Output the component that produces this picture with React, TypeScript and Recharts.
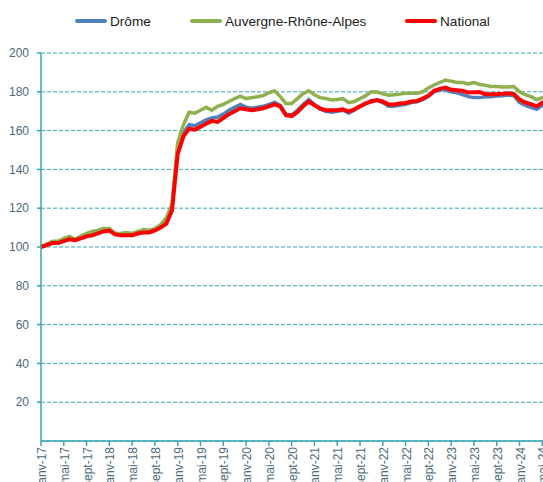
import { CartesianGrid, Legend, Line, LineChart, XAxis, YAxis } from "recharts";

const monthNames = ["janv", "févr", "mars", "avr", "mai", "juin", "juil", "août", "sept", "oct", "nov", "déc"];
const years = ["17", "18", "19", "20", "21", "22", "23", "24"];
const periods = years.flatMap((y) => monthNames.map((m) => `${m}-${y}`)).slice(0, 90);

const drome = [
  100, 101, 102, 102.5, 103.5, 104.5, 104, 105.5, 106.5, 107.5, 108.5, 109.5,
  109, 107, 106.5, 106.5, 106, 107, 108, 108, 109, 111, 114, 121,
  151, 159, 163, 162.5, 164, 165.5, 166.5, 167, 168.5, 170.5, 172, 173.5,
  172, 171.5, 172, 172.5, 173.5, 174.5, 173, 168.5, 168, 170.5, 173.5, 176,
  173.5, 171, 170, 169.5, 170, 170.5, 169, 170.5, 172.5, 174, 175.5, 175.5,
  174.5, 172.5, 172.5, 173, 173.5, 174.5, 174.8, 176, 177.5, 180, 181, 181,
  180, 179.5, 178.5, 177.5, 177, 177, 177.5, 177.5, 177.8, 178, 178.3, 178,
  174.5, 173, 172, 171, 173, 174,
];

const auvergne = [
  100, 101.5, 103, 103, 104.5, 105.5, 104, 105.5, 107, 108, 108.5, 109.5,
  109.5, 107, 107, 107.5, 107, 108, 109, 108.5, 109.5, 111.5, 115, 122,
  154, 163, 169.5, 169, 170.5, 172, 170.5, 172.5, 173.5, 175, 176.5, 177.8,
  176.5, 177, 177.5, 178, 179.5, 180.5, 177.5, 174, 174, 176.5, 179, 180.5,
  178.5, 177, 176.5, 175.8, 176, 176.5, 174.4, 175, 176.5, 178, 180, 179.9,
  179, 178.2, 178.5, 178.8, 179.3, 179.3, 179.3, 180, 182, 183.5, 184.8, 186,
  185.5, 184.8, 184.8, 184, 184.8, 183.8, 183.4, 182.7, 182.7, 182.5, 182.5, 182.7,
  180, 178.5, 177.5, 176, 177, 177.5,
];

const national = [
  100, 101, 102, 102, 103, 104, 103.5, 104.5, 105.5, 106, 107, 108,
  108.5, 106.5, 106, 106, 106, 107, 107.5, 107.5, 108.5, 110, 112, 119,
  148, 157, 161, 160.5, 162, 163.5, 165, 164.5, 166.5, 168.5, 170, 171.5,
  171, 170.5, 171, 171.5, 172.5, 173.5, 172.5, 168, 167.5, 169.5, 172.5, 175,
  173, 171.5, 170.5, 170.5, 170.5, 171, 169.8, 171, 172.5, 174, 175, 175.8,
  175, 173.5, 173.5, 174, 174.2, 175, 175.3, 176.5, 178, 180.5, 181.5, 182.2,
  181, 180.8, 180.5, 179.6, 179.8, 179.9, 178.8, 178.8, 178.8, 179, 179.3, 178.8,
  176, 174.5, 173.6, 172.5, 174.4, 175,
];

const yTicks = [20, 40, 60, 80, 100, 120, 140, 160, 180, 200];
const seriesNames = ["Drôme", "Auvergne-Rhône-Alpes", "National"];

const data = periods.map((period, i) => ({
  period,
  drome: drome[i],
  auvergne: auvergne[i],
  national: national[i],
}));

const AXIS = "#3aa5b5";
const TEXT = "#4c6a78";
const legendLeft = [75, 190, 405];

const MonthTick = ({ x, y, payload }: any) => (
  <text
    x={x + 1}
    y={y}
    transform={`rotate(-90, ${x + 1}, ${y})`}
    textAnchor="end"
    dominantBaseline="central"
    fill={TEXT}
    fontSize={12}
  >
    {payload.value}
  </text>
);

const renderLegend = ({ payload }: any) => {
  const items = [...(payload || [])].sort(
    (a: any, b: any) => seriesNames.indexOf(a.value) - seriesNames.indexOf(b.value)
  );
  return (
    <div style={{ position: "relative", height: 20 }}>
      {items.map((entry: any, i: number) => (
        <div
          key={entry.value}
          style={{
            position: "absolute",
            left: legendLeft[i],
            top: 0,
            height: 20,
            display: "flex",
            alignItems: "center",
            whiteSpace: "nowrap",
          }}
        >
          <span
            style={{
              display: "inline-block",
              width: 32,
              height: 4,
              borderRadius: 2,
              background: entry.color,
              marginRight: 3,
            }}
          />
          <span style={{ fontSize: 13.6, color: "#222" }}>{entry.value}</span>
        </div>
      ))}
    </div>
  );
};

export default function App() {
  return (
    <div
      style={{
        position: "absolute",
        left: 0,
        top: 0,
        width: 543,
        height: 482,
        overflow: "hidden",
        background: "#fff",
        fontFamily: "'Liberation Sans', Arial, sans-serif",
      }}
    >
      <LineChart
        width={548}
        height={501}
        data={data}
        margin={{ top: 53, right: 0, bottom: 0, left: 0 }}
      >
        <CartesianGrid
          vertical={false}
          stroke={AXIS}
          strokeDasharray="4 2"
        />
        <XAxis
          dataKey="period"
          interval={3}
          height={60}
          tickSize={5}
          tickMargin={1}
          stroke={AXIS}
          axisLine={{ stroke: AXIS, strokeWidth: 1.5 }}
          tickLine={{ stroke: AXIS, strokeWidth: 1.5 }}
          tick={<MonthTick />}
        />
        <YAxis
          width={41}
          domain={[0, 200]}
          ticks={yTicks}
          tickSize={4}
          tickMargin={8}
          axisLine={{ stroke: AXIS, strokeWidth: 1.5 }}
          tickLine={{ stroke: AXIS, strokeWidth: 1.5 }}
          tick={{ fill: TEXT, fontSize: 12 }}
        />
        <Legend
          layout="horizontal"
          verticalAlign="middle"
          align="center"
          wrapperStyle={{ top: 11, left: 0, width: 543 }}
          content={renderLegend}
        />
        <Line
          type="linear"
          dataKey="drome"
          name="Drôme"
          stroke="#4f81bd"
          strokeWidth={3.5}
          dot={false}
          activeDot={false}
          isAnimationActive={false}
        />
        <Line
          type="linear"
          dataKey="auvergne"
          name="Auvergne-Rhône-Alpes"
          stroke="#8fb04f"
          strokeWidth={3.5}
          dot={false}
          activeDot={false}
          isAnimationActive={false}
        />
        <Line
          type="linear"
          dataKey="national"
          name="National"
          stroke="#ff0000"
          strokeWidth={4}
          dot={false}
          activeDot={false}
          isAnimationActive={false}
        />
      </LineChart>
    </div>
  );
}
